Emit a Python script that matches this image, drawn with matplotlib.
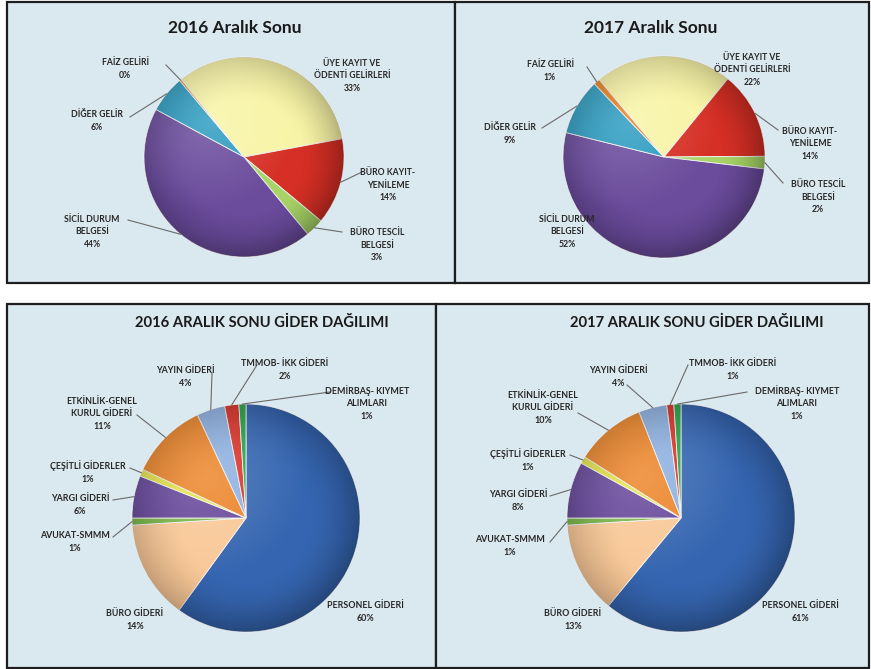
import matplotlib.pyplot as plt
import numpy as np
from matplotlib.patches import Rectangle, Circle

plt.rcParams['font.family'] = ['Lato', 'DejaVu Sans']

## veriler
gelir_kategori = ['ÜYE KAYIT VE\nÖDENTİ GELİRLERİ', 'BÜRO KAYIT-\nYENİLEME', 'BÜRO TESCİL\nBELGESİ',
                  'SİCİL DURUM\nBELGESİ', 'DİĞER GELİR', 'FAİZ GELİRİ']
gelir_2016 = [33, 14, 3, 44, 6, 0.3]
gelir_2017 = [22, 14, 2, 52, 9, 1]

gider_kategori = ['PERSONEL GİDERİ', 'BÜRO GİDERİ', 'AVUKAT-SMMM', 'YARGI GİDERİ', 'ÇEŞİTLİ GİDERLER',
                  'ETKİNLİK-GENEL\nKURUL GİDERİ', 'YAYIN GİDERİ', 'TMMOB- İKK GİDERİ',
                  'DEMİRBAŞ- KIYMET\nALIMLARI']
gider_2016 = [60, 14, 1, 6, 1, 11, 4, 2, 1]
gider_2017 = [61, 13, 1, 8, 1, 10, 4, 1, 1]

basliklar = ['2016 Aralık Sonu', '2017 Aralık Sonu',
             '2016 ARALIK SONU GİDER DAĞILIMI', '2017 ARALIK SONU GİDER DAĞILIMI']

## renkler
gelir_renk = ['#f8f4a6', '#d62f25', '#a8d467', '#6a4b9c', '#2b9bbf', '#e8801e']
gider_renk = ['#3565b0', '#f9c897', '#79b548', '#66479a', '#e6e445', '#ec8428', '#8db0e0', '#d8342a', '#2aa24a']
BG = '#dae8ef'

## yerlesim (piksel, resim koordinatlari)
W, H = 871, 669
paneller = [(7, 2, 455, 283), (455, 2, 869, 283), (7, 304, 436, 668), (436, 304, 869, 668)]

etiket_2016_gelir = [((352, 76), None), ((388, 185), (362, 172)), ((377, 245), (342, 232)),
                     ((92, 232), (128, 220)), ((97, 121), (130, 117)), ((125, 69), (166, 65))]
etiket_2017_gelir = [((752, 70), None), ((810, 144), (778, 130)), ((818, 197), (783, 183)),
                     ((567, 232), None), ((510, 134), (542, 128)), ((550, 71), (587, 67))]
etiket_2016_gider = [((365, 612), None), ((135, 620), None), ((75, 542), (113, 537)),
                     ((80, 505), (113, 500)), ((88, 472), (130, 468)), ((102, 414), (137, 415)),
                     ((185, 377), (212, 373)), ((285, 370), (257, 365)), ((367, 403), (330, 392))]
etiket_2017_gider = [((800, 612), None), ((573, 620), None), ((510, 546), (550, 542)),
                     ((518, 501), (550, 496)), ((528, 460), (570, 455)), ((543, 408), (578, 413)),
                     ((618, 377), (627, 385)), ((733, 370), (688, 365)), ((797, 403), (747, 392))]

fig = plt.figure(figsize=(W / 100, H / 100), dpi=100)
ax = fig.add_axes([0, 0, 1, 1])

for x0, y0, x1, y1 in paneller:
    ax.add_patch(Rectangle((x0, H - y1), x1 - x0, y1 - y0, facecolor=BG, edgecolor='#1e1e1e',
                           linewidth=1.6, zorder=0))


def golge(cx, cy, r):
    # hafif 3B gorunum: kenarlar koyu, sol ust acik
    n = 200
    g = np.linspace(-1, 1, n)
    gx, gy = np.meshgrid(g, g)
    d = np.sqrt(gx ** 2 + gy ** 2)
    rim = np.clip((d - 0.55) / 0.45, 0, 1) ** 1.6
    yon = np.clip(0.5 + 0.5 * (gx - gy) / 1.4, 0, 1)  # sag alt daha koyu
    dark = 0.32 * rim * (0.45 + 0.55 * yon)
    light = 0.18 * np.clip(1 - np.sqrt((gx + 0.35) ** 2 + (gy - 0.35) ** 2) / 0.9, 0, 1)
    img = np.zeros((n, n, 4))
    a = dark + light
    img[..., :3] = (light / np.maximum(a, 1e-6))[..., None]
    img[..., 3] = a
    im = ax.imshow(img, extent=(cx - r, cx + r, cy - r, cy + r), origin='lower',
                   interpolation='bilinear', zorder=2, aspect='auto')
    im.set_clip_path(Circle((cx, cy), r, transform=ax.transData))


def pasta(degerler, kategoriler, renkler, merkez, r, baslangic, etiketler, fs):
    cx, cy = merkez[0], H - merkez[1]
    wedges, _ = ax.pie(degerler, colors=renkler, startangle=baslangic, counterclock=False,
                       center=(cx, cy), radius=r, frame=True,
                       wedgeprops=dict(edgecolor='#f4f4f4', linewidth=0.6))
    golge(cx, cy, r)
    toplam = sum(degerler)
    for w, kat, v, (pos, anc) in zip(wedges, kategoriler, degerler, etiketler):
        ax.text(pos[0], H - pos[1], f'{kat}\n{v / toplam * 100:.0f}%', ha='center', va='center',
                ma='center', fontsize=fs, fontweight='bold', color='#262626', linespacing=1.5,
                zorder=5)
        if anc is not None:
            th = np.deg2rad((w.theta1 + w.theta2) / 2)
            ax.plot([anc[0], cx + r * np.cos(th)], [H - anc[1], cy + r * np.sin(th)],
                    color='#6a6a6a', lw=0.8, zorder=4)


pasta(gelir_2016, gelir_kategori, gelir_renk, (244, 157), 100, 129, etiket_2016_gelir, 6.2)
pasta(gelir_2017, gelir_kategori, gelir_renk, (664, 157), 101, 130, etiket_2017_gelir, 6.2)
pasta(gider_2016, gider_kategori, gider_renk, (246, 518), 114, 90, etiket_2016_gider, 6.4)
pasta(gider_2017, gider_kategori, gider_renk, (681, 518), 114, 90, etiket_2017_gider, 6.4)

for (tx, ty), b, fs in zip([(235, 28), (651, 28), (262, 323), (697, 323)], basliklar, [12.5, 12.5, 10.6, 10.6]):
    ax.text(tx, H - ty, b, ha='center', va='center', fontsize=fs, fontweight='bold', color='#1a1a1a')

ax.set_xlim(0, W)
ax.set_ylim(0, H)
ax.set_aspect('auto')
ax.axis('off')

fig.savefig('out.png', dpi=100, facecolor='white')
